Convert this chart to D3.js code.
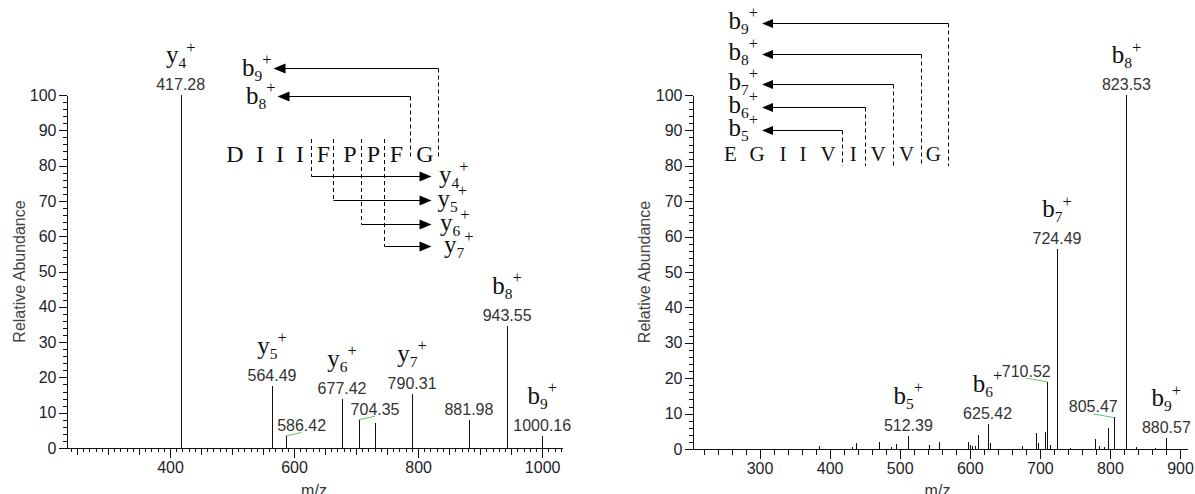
<!DOCTYPE html>
<html><head><meta charset="utf-8">
<script src="https://cdn.jsdelivr.net/npm/d3@7"></script>
<style>body{margin:0;background:#fff}svg{display:block}</style>
</head><body>
<svg id="c" width="1195" height="494"></svg>
<script>
// ---------------- DATA ----------------
const leftMz  = [417.28, 564.49, 586.42, 677.42, 704.35, 730.6, 790.31, 881.98, 943.55, 1000.16];
const leftInt = [100, 17.6, 3.4, 13.9, 8.0, 7.2, 15.3, 7.9, 34.6, 3.5];
const leftMassLabels = [417.28, 564.49, 586.42, 677.42, 704.35, 790.31, 881.98, 943.55, 1000.16];
const leftIonMz    = [417.28, 564.49, 677.42, 790.31, 943.55, 1000.16];
const leftIonNames = ["y4", "y5", "y6", "y7", "b8", "b9"];
const leftSeq   = ["D", "I", "I", "I", "F", "P", "P", "F", "G"];
const leftBFrag = ["b9", "b8"];
const leftYFrag = ["y4", "y5", "y6", "y7"];

const rightMz  = [384.7, 431.4, 438.0, 470.5, 487.0, 494.0, 512.39, 541.5, 556.0, 597.8, 600.5, 603.8, 607.6, 612.2,
                  625.42, 628.6, 674.3, 695.2, 697.6, 707.6, 710.52, 714.9, 724.49, 743.0, 779.0, 784.7, 791.9,
                  796.7, 805.47, 823.53, 837.0, 864.0, 880.57];
const rightInt = [0.9, 0.7, 1.6, 2.0, 0.7, 1.5, 3.7, 1.2, 2.0, 2.1, 1.1, 0.8, 0.9, 4.0,
                  7.1, 1.6, 0.9, 4.4, 1.6, 4.9, 19.0, 1.1, 56.4, 0.3, 2.8, 0.9, 0.6,
                  5.8, 8.9, 100, 0.5, 0.3, 3.0];
const rightMassLabels = [512.39, 625.42, 710.52, 724.49, 805.47, 823.53, 880.57];
const rightIonMz    = [512.39, 625.42, 724.49, 823.53, 880.57];
const rightIonNames = ["b5", "b6", "b7", "b8", "b9"];
const rightSeq   = ["E", "G", "I", "I", "V", "I", "V", "V", "G"];
const rightBFrag = ["b9", "b8", "b7", "b6", "b5"];

const yTickLabels = [0, 10, 20, 30, 40, 50, 60, 70, 80, 90, 100];
const leftXTickLabels  = [400, 600, 800, 1000];
const rightXTickLabels = [300, 400, 500, 600, 700, 800, 900];
const yAxisTitle = "Relative Abundance";
const xAxisTitle = "m/z";

// ---------------- LAYOUT ----------------
const SANS = "'Liberation Sans', Arial, sans-serif";
const SERIF = "'Liberation Serif', 'Times New Roman', serif";
const ION_SIZE = 25;
const svg = d3.select("#c");
svg.append("rect").attr("width", 1195).attr("height", 494).attr("fill", "#fff");

const LP = { domain: [234, 1032], range: [67, 562], y0: 448, y1: 95,
  minorStep: 10, midStep: 50, majorStep: 200, titleX: 19, mzX: 314,
  nudge: { 586.42: 16, 704.35: 16.3 } };
const RP = { domain: [205, 910], range: [693, 1187], y0: 449, y1: 95,
  minorStep: 20, midStep: null, majorStep: 100, titleX: 644, mzX: 937.5,
  nudge: { 710.52: -21, 805.47: -20.5 } };

function ionText(sel, name) {
  sel.append("tspan").text(name[0]);
  sel.append("tspan").attr("dy", 5).attr("font-size", 15.5).text(name.slice(1));
  sel.append("tspan").attr("dy", -15.5).attr("font-size", 16.5).text("+");
}

function drawPanel(P, mz, inten, massLabels, ionMz, ionNames, xMajor) {
  const x = d3.scaleLinear().domain(P.domain).range(P.range);
  const y = d3.scaleLinear().domain([0, 100]).range([P.y0, P.y1]);
  const g = svg.append("g");
  const lo = Math.ceil(P.domain[0] / P.minorStep) * P.minorStep;
  const allTicks = d3.range(lo, P.domain[1] + 0.01, P.minorStep);
  const minor = allTicks.filter(v => v % P.majorStep !== 0 && (!P.midStep || v % P.midStep !== 0));
  const mid = P.midStep ? allTicks.filter(v => v % P.midStep === 0 && v % P.majorStep !== 0) : [];

  const styleAxis = s => { s.selectAll("line").attr("stroke", "#111").attr("shape-rendering", "crispEdges");
                           s.select(".domain").remove(); };
  // x ticks
  g.append("g").attr("transform", `translate(0,${P.y0})`)
    .call(d3.axisBottom(x).tickValues(minor).tickSize(P.midStep ? 4 : 5.5).tickFormat("")).call(styleAxis);
  if (mid.length) g.append("g").attr("transform", `translate(0,${P.y0})`)
    .call(d3.axisBottom(x).tickValues(mid).tickSize(7).tickFormat("")).call(styleAxis);
  const xa = g.append("g").attr("transform", `translate(0,${P.y0})`)
    .call(d3.axisBottom(x).tickValues(xMajor).tickSize(10).tickPadding(4).tickSizeOuter(0).tickFormat(d3.format("d")));
  xa.selectAll(".tick line").attr("stroke", "#111").attr("shape-rendering", "crispEdges");
  xa.select(".domain").attr("stroke", "#111").attr("shape-rendering", "crispEdges");
  xa.selectAll("text").attr("font-family", SANS).attr("font-size", 16).attr("fill", "#1e1e2a");
  // y ticks
  g.append("g").attr("transform", `translate(${P.range[0]},0)`)
    .call(d3.axisLeft(y).tickValues(d3.range(0, 101, 2).filter(v => v % 10)).tickSize(4.5).tickFormat("")).call(styleAxis);
  const ya = g.append("g").attr("transform", `translate(${P.range[0]},0)`)
    .call(d3.axisLeft(y).tickValues(yTickLabels).tickSize(8).tickPadding(2.5).tickSizeOuter(0));
  ya.selectAll(".tick line").attr("stroke", "#111").attr("shape-rendering", "crispEdges");
  ya.select(".domain").attr("stroke", "#111").attr("shape-rendering", "crispEdges");
  ya.selectAll("text").attr("font-family", SANS).attr("font-size", 16).attr("fill", "#1e1e2a");

  // titles
  g.append("text").attr("transform", `translate(${P.titleX},${(P.y0 + P.y1) / 2}) rotate(-90)`)
    .attr("text-anchor", "middle").attr("dy", "0.35em").attr("font-family", SANS).attr("font-size", 16)
    .attr("fill", "#444").text(yAxisTitle);
  g.append("text").attr("x", P.mzX).attr("y", 495.5).attr("text-anchor", "middle")
    .attr("font-family", SANS).attr("font-size", 16).attr("fill", "#333").text(xAxisTitle);

  // peaks
  const peaks = mz.map((m, i) => ({ m, v: inten[i] }));
  g.append("g").selectAll("line").data(peaks).join("line")
    .attr("x1", d => Math.round(x(d.m)) + 0.5).attr("x2", d => Math.round(x(d.m)) + 0.5)
    .attr("y1", y(0)).attr("y2", d => y(d.v))
    .attr("stroke", "#111").attr("stroke-width", 1).attr("shape-rendering", "crispEdges");

  const intOf = m => inten[mz.indexOf(m)];
  // mass labels
  massLabels.forEach(m => {
    const px = x(m), top = y(intOf(m));
    const dx = P.nudge[m] || 0;
    const base = top - 5;
    if (dx) {
      g.append("line").attr("x1", px + dx).attr("y1", base + 1.5).attr("x2", px).attr("y2", top)
        .attr("stroke", "#66c466").attr("stroke-width", 1);
    }
    g.append("text").attr("x", px + dx).attr("y", base).attr("text-anchor", "middle")
      .attr("font-family", SANS).attr("font-size", 16).attr("fill", "#333").text(m.toFixed(2));
  });
  // ion labels
  ionMz.forEach((m, i) => {
    const px = x(m), top = y(intOf(m));
    const t = g.append("text").attr("x", px).attr("y", top - 32).attr("text-anchor", "middle")
      .attr("font-family", SERIF).attr("font-size", ION_SIZE).attr("fill", "#111");
    ionText(t, ionNames[i]);
  });
}

drawPanel(LP, leftMz, leftInt, leftMassLabels, leftIonMz, leftIonNames, leftXTickLabels);
drawPanel(RP, rightMz, rightInt, rightMassLabels, rightIonMz, rightIonNames, rightXTickLabels);

// ---------------- FRAGMENTATION DIAGRAMS ----------------
function arrowHead(g, tipX, yy, dir, len, hh) {
  g.append("path").attr("d", `M${tipX},${yy} L${tipX - dir * len},${yy - hh} L${tipX - dir * len},${yy + hh} Z`)
    .attr("fill", "#000");
}
function dashed(g, xx, ya, yb) {
  g.append("line").attr("x1", xx).attr("x2", xx).attr("y1", ya).attr("y2", yb)
    .attr("stroke", "#000").attr("stroke-width", 1).attr("stroke-dasharray", "4,3");
}
function solid(g, xa, xb, yy) {
  g.append("line").attr("x1", xa).attr("x2", xb).attr("y1", yy).attr("y2", yy)
    .attr("stroke", "#000").attr("stroke-width", 1);
}

// left diagram
{
  const g = svg.append("g");
  const cx = [235, 260, 280, 300, 323.5, 350, 373.5, 396.5, 425];
  g.selectAll("text.seq").data(leftSeq).join("text").attr("class", "seq")
    .attr("x", (d, i) => cx[i]).attr("y", 162.3).attr("text-anchor", "middle")
    .attr("font-family", SERIF).attr("font-size", 24).attr("fill", "#111").text(d => d);
  const bLay = [{ sep: 438.5, ay: 68.5, tip: 273.5 }, { sep: 410.5, ay: 96.5, tip: 277.5 }];
  leftBFrag.forEach((name, i) => {
    const L = bLay[i];
    dashed(g, L.sep, L.ay, 158);
    solid(g, L.tip + 10, L.sep, L.ay);
    arrowHead(g, L.tip, L.ay, -1, 12, 5);
    const t = g.append("text").attr("x", L.tip - 2).attr("y", L.ay + 7).attr("text-anchor", "end")
      .attr("font-family", SERIF).attr("font-size", ION_SIZE).attr("fill", "#111");
    ionText(t, name);
  });
  const yLay = [{ sep: 311.5, ay: 176.5, lx: 439 }, { sep: 333.5, ay: 200.5, lx: 437.5 },
                { sep: 361.5, ay: 224.5, lx: 440 }, { sep: 384.5, ay: 246.5, lx: 444 }];
  leftYFrag.forEach((name, i) => {
    const L = yLay[i];
    dashed(g, L.sep, 139, L.ay);
    solid(g, L.sep, 422, L.ay);
    arrowHead(g, 431.5, L.ay, 1, 12, 5);
    const t = g.append("text").attr("x", L.lx).attr("y", L.ay + 6).attr("text-anchor", "start")
      .attr("font-family", SERIF).attr("font-size", ION_SIZE).attr("fill", "#111");
    ionText(t, name);
  });
}
// right diagram
{
  const g = svg.append("g");
  const cx = [730.5, 757, 783, 803, 828, 853.3, 878, 906.7, 933.3];
  g.selectAll("text.seq").data(rightSeq).join("text").attr("class", "seq")
    .attr("x", (d, i) => cx[i]).attr("y", 161).attr("text-anchor", "middle")
    .attr("font-family", SERIF).attr("font-size", 21).attr("fill", "#111").text(d => d);
  const bLay = [{ sep: 948.5, ay: 23.5 }, { sep: 921.5, ay: 54.5 }, { sep: 893.5, ay: 84.5 },
                { sep: 865.5, ay: 107.5 }, { sep: 842.5, ay: 130.5 }];
  rightBFrag.forEach((name, i) => {
    const L = bLay[i];
    dashed(g, L.sep, L.ay, 166);
    solid(g, 770, L.sep, L.ay);
    arrowHead(g, 762, L.ay, -1, 11, 4.5);
    const t = g.append("text").attr("x", 758).attr("y", L.ay + 5).attr("text-anchor", "end")
      .attr("font-family", SERIF).attr("font-size", ION_SIZE).attr("fill", "#111");
    ionText(t, name);
  });
}
</script>
</body></html>
